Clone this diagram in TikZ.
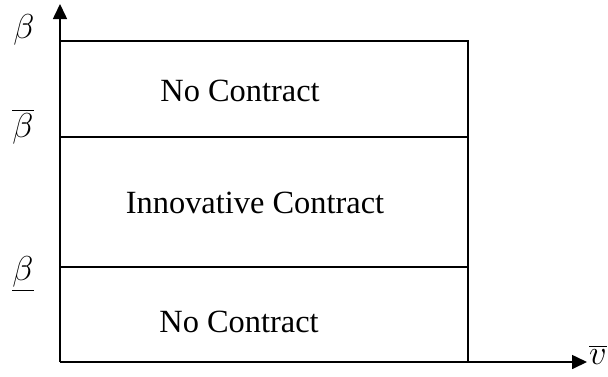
\documentclass[tikz,border=0pt]{standalone}
\usepackage{fontspec}
\setmainfont{Liberation Serif}
\usetikzlibrary{arrows.meta,positioning}

\begin{document}
\begin{tikzpicture}[
      x=0.5pt, y=-0.5pt,
      font=\fontsize{16.2}{20}\selectfont,
      axis/.style={-{Triangle[length=7.5pt,width=7pt]}, line width=0.8pt},
      edge/.style={line width=0.7pt},
      lbl/.style={font=\fontsize{19}{22}\selectfont, inner sep=0pt}
    ]
    \useasboundingbox (0,0) rectangle (608,376);

    % ---- axes and region corners ----
    \coordinate (o) at (60,362);
    \coordinate (ytip) at (60,4);
    \coordinate (xtip) at (587,362);
    \coordinate (tl) at (60,41);
    \coordinate (tr) at (468,41);
    \coordinate (br) at (468,362);
    \coordinate (ml) at (60,137);
    \coordinate (mr) at (468,137);
    \coordinate (ll) at (60,267);
    \coordinate (lr) at (468,267);

    \draw[axis] (o) -- (ytip);
    \draw[axis] (o) -- (xtip);
    \draw[edge] (tl) -- (tr) -- (br);
    \draw[edge] (ml) -- (mr);
    \draw[edge] (ll) -- (lr);

    % ---- regions ----
    \node (top) at (240,91) {No Contract};
    \node (mid) at (255,203) {Innovative Contract};
    \node (bot) at (239,322) {No Contract};

    % ---- axis labels ----
    \node[lbl] (bmax) at (24,30) {$\beta$};
    \node[lbl] (bhi) at (23,127) {$\overline{\beta}$};
    \node[lbl] (blo) at (23,274) {$\underline{\beta}$};
    \node[lbl, font=\fontsize{16}{18}\selectfont, anchor=east] (vbar) at (607,355) {$\overline{v}$};
  \end{tikzpicture}
\end{document}
